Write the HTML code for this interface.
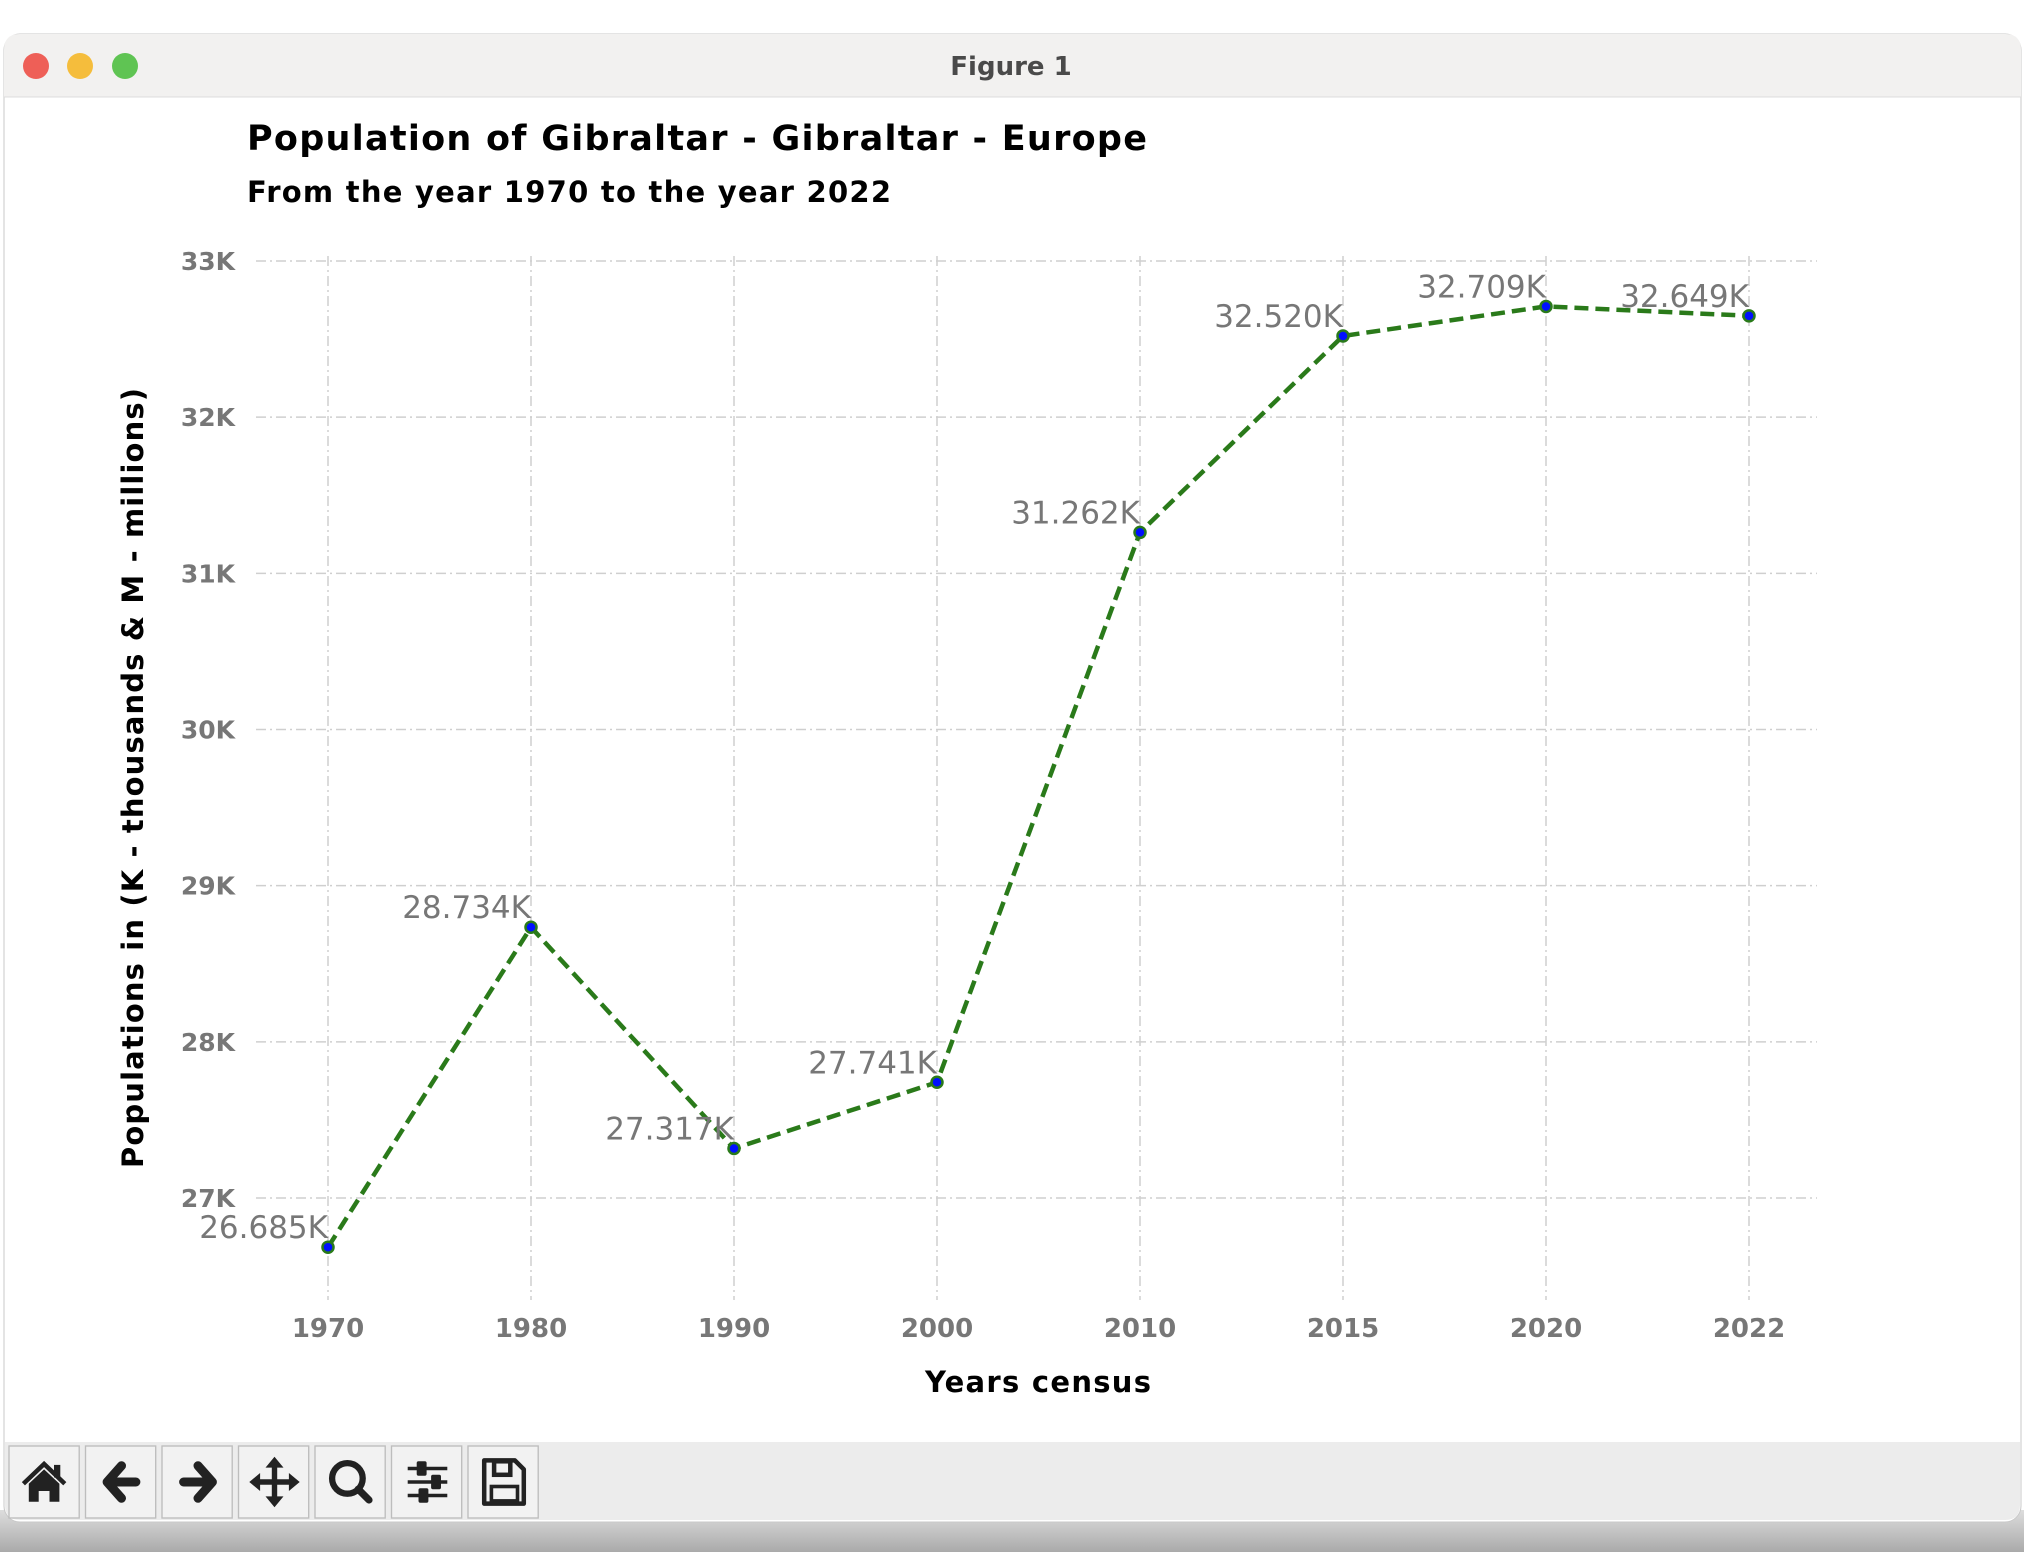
<!DOCTYPE html>
<html><head><meta charset="utf-8"><style>
body{margin:0;width:2024px;height:1552px;background:#fff;overflow:hidden;font-family:"DejaVu Sans","Liberation Sans",sans-serif}
</style></head><body>
<svg width="2024" height="1552" viewBox="0 0 2024 1552" xmlns="http://www.w3.org/2000/svg">
<defs><linearGradient id="sh" x1="0" y1="0" x2="0" y2="1"><stop offset="0" stop-color="#ddd"/><stop offset="1" stop-color="#aaa"/></linearGradient></defs>
<rect x="0" y="1510" width="2024" height="42" fill="url(#sh)"/>
<rect x="4" y="34" width="2017" height="1488" rx="16" fill="#fff" stroke="#c8c8c8"/>
<path d="M4 97 V50 Q4 34 20 34 H2005 Q2021 34 2021 50 V97 Z" fill="#f2f1f0"/>
<line x1="4" y1="97" x2="2021" y2="97" stroke="#dcdcdc"/>
<circle cx="36" cy="66" r="13" fill="#ee5f57"/>
<circle cx="80" cy="66" r="13" fill="#f5bd3c"/>
<circle cx="125" cy="66" r="13" fill="#5fc453"/>
<text x="1011" y="75" text-anchor="middle" font-size="26" font-weight="bold" fill="#4a4a4a">Figure 1</text>
<text x="247" y="150" font-size="35" font-weight="bold" fill="#000" textLength="900">Population of Gibraltar - Gibraltar - Europe</text>
<text x="247" y="202" font-size="29" font-weight="bold" fill="#000" textLength="644">From the year 1970 to the year 2022</text>
<g id="chart"></g>
<text x="1038" y="1392" text-anchor="middle" font-size="29" font-weight="bold" fill="#000" textLength="226">Years census</text>
<text transform="translate(143,778) rotate(-90)" text-anchor="middle" font-size="29" font-weight="bold" fill="#000" textLength="780">Populations in (K - thousands &amp; M - millions)</text>
<path d="M5 1442 H2020 V1505 Q2020 1520 2005 1520 H20 Q5 1520 5 1505Z" fill="#ececec"/>
<g id="tb" fill="#222" stroke="none"></g>
</svg>
<script>
const categories=["1970","1980","1990","2000","2010","2015","2020","2022"];
const values=[26.685,28.734,27.317,27.741,31.262,32.520,32.709,32.649];
const labels=["26.685K","28.734K","27.317K","27.741K","31.262K","32.520K","32.709K","32.649K"];
const yTicks=[27,28,29,30,31,32,33];
const yTickLabels=["27K","28K","29K","30K","31K","32K","33K"];
const NS="http://www.w3.org/2000/svg";
const g=document.getElementById('chart');
function X(i){return 328+i*(1749-328)/(categories.length-1);}
function Y(v){return 1198-(v-27)*(1198-261)/6;}
function mk(t,a,p){const e=document.createElementNS(NS,t);for(const k in a)e.setAttribute(k,a[k]);(p||g).appendChild(e);return e;}
yTicks.forEach((t,i)=>{
 const l=mk('line',{x1:256,x2:1817,y1:Y(t),y2:Y(t),stroke:'#cfcfcf','stroke-width':1.5,'stroke-dasharray':'10 4 2 4'});
 
 
 const tx=mk('text',{x:235,y:Y(t)+9,'text-anchor':'end','font-size':25,'font-weight':'bold',fill:'#777'});
 tx.textContent=yTickLabels[i];
 
 
});
categories.forEach((c,i)=>{
 const l=mk('line',{x1:X(i),x2:X(i),y1:256,y2:1300,stroke:'#cfcfcf','stroke-width':1.5,'stroke-dasharray':'10 4 2 4'});
 
 
 const tx=mk('text',{x:X(i),y:1337,'text-anchor':'middle','font-size':26,'font-weight':'bold',fill:'#777'});
 tx.textContent=c;
 
 
});
const pl=mk('polyline',{points:values.map((v,i)=>X(i)+','+Y(v)).join(' '),fill:'none',stroke:'#2a7a1a','stroke-width':4.5,'stroke-dasharray':'14 7'});


values.forEach((v,i)=>{
 const c=mk('circle',{cx:X(i),cy:Y(v),r:5.5,fill:'#0010ff',stroke:'#2a7a1a','stroke-width':2.5});
 
 
 const t=mk('text',{x:X(i),y:Y(v)-9,'text-anchor':'end','font-size':31,fill:'#777'});
 t.textContent=labels[i];
 
 
});
const tb=document.getElementById('tb');
const names=['home-button','back-button','forward-button','pan-button','zoom-button','configure-button','save-button'];
const icons=[
 '<path d="M16 42 L39 20 L62 42" fill="none" stroke="#222" stroke-width="5"/><path d="M22 42 L39 26 L56 42 V62 H45 V50 H33 V62 H22Z"/><rect x="50" y="21" width="7" height="14"/>',
 '<path d="M24 40 L40 22 M24 40 L40 58 M24 40 H56" fill="none" stroke="#222" stroke-width="10" stroke-linecap="round" stroke-linejoin="round"/>',
 '<path d="M56 40 L40 22 M56 40 L40 58 M56 40 H24" fill="none" stroke="#222" stroke-width="10" stroke-linecap="round" stroke-linejoin="round"/>',
 '<path d="M40 20 V60 M20 40 H60" stroke="#222" stroke-width="6"/><path d="M40 12 L50 24 H30Z M40 68 L50 56 H30Z M12 40 L24 30 V50Z M68 40 L56 30 V50Z"/>',
 '<circle cx="36" cy="36" r="17" fill="none" stroke="#222" stroke-width="7"/><path d="M48 48 L60 60" stroke="#222" stroke-width="8" stroke-linecap="round"/>',
 '<path d="M18 25 H62 M18 40 H62 M18 55 H62" stroke="#222" stroke-width="4"/><rect x="28" y="17" width="11" height="16" rx="2"/><rect x="44" y="32" width="11" height="16" rx="2"/><rect x="30" y="47" width="11" height="16" rx="2"/>',
 '<path d="M18 16 H52 L62 26 V64 H18Z" fill="none" stroke="#222" stroke-width="5" stroke-linejoin="round"/><rect x="29" y="17" width="18" height="15" fill="none" stroke="#222" stroke-width="5"/><rect x="26" y="45" width="29" height="16" fill="none" stroke="#222" stroke-width="4"/>'
];
icons.forEach((ic,i)=>{
 const gg=mk('g',{transform:'translate('+(9+i*76.5)+',1446) scale(0.9)'},tb);
 
 
 gg.innerHTML='<rect x="0" y="0" width="78" height="80" fill="#f2f2f2" stroke="#bdbdbd" stroke-width="1.5"/>'+ic;
});
</script>
</body></html>
